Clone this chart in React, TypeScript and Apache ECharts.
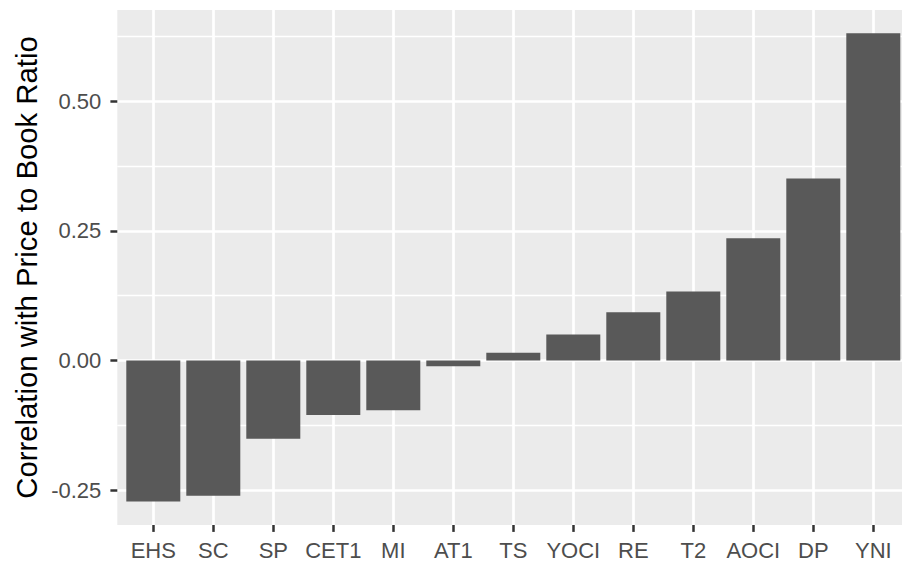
import React, { useEffect, useRef } from "react";
import * as echarts from "echarts";

// ---- data ----
const categories = ["EHS", "SC", "SP", "CET1", "MI", "AT1", "TS", "YOCI", "RE", "T2", "AOCI", "DP", "YNI"];
const correlations = [-0.272, -0.261, -0.151, -0.105, -0.096, -0.011, 0.015, 0.05, 0.093, 0.133, 0.236, 0.351, 0.631];
const yTickValues = [-0.25, 0, 0.25, 0.5];
const yAxisTitle = "Correlation with Price to Book Ratio";

// ---- layout (page pixel coordinates) ----
const SHIFT = 40; // chart div is shifted up so the tick grid can start above the page
const PANEL_LEFT = 117.3;
const PANEL_WIDTH = 792;
const PANEL_TOP = 10;
const PANEL_BOTTOM = 525;
const ZERO_Y = 360.5;
const PX_PER_UNIT = 518.5;
const BAND = 60;
const valueToY = (v: number) => ZERO_Y - v * PX_PER_UNIT;
const yToValue = (y: number) => (ZERO_Y - y) / PX_PER_UNIT;

const FONT = "'Liberation Sans', Arial, Helvetica, sans-serif";

export default function App() {
  const ref = useRef<HTMLDivElement>(null);

  useEffect(() => {
    if (!ref.current) return;
    const chart = echarts.init(ref.current, undefined, { renderer: "svg" });

    const step = yTickValues[1] - yTickValues[0];
    const gridMin = yTickValues[0];
    const gridMax = yTickValues[yTickValues.length - 1] + step;
    const g1Top = valueToY(gridMax);
    const g1Height = valueToY(gridMin) - g1Top;

    const barsLeft = PANEL_LEFT + 0.6 * BAND;
    const barsWidth = (categories.length - 1) * BAND;

    const option: any = {
      animation: false,
      backgroundColor: "#FFFFFF",
      grid: [
        {
          left: PANEL_LEFT,
          top: PANEL_TOP + SHIFT,
          width: PANEL_WIDTH,
          height: PANEL_BOTTOM - PANEL_TOP,
          show: true,
          backgroundColor: "#EBEBEB",
          borderWidth: 0,
          containLabel: false,
        },
        {
          left: PANEL_LEFT,
          top: g1Top + SHIFT,
          width: PANEL_WIDTH,
          height: g1Height,
          containLabel: false,
        },
        {
          left: barsLeft,
          top: PANEL_TOP + SHIFT,
          width: barsWidth,
          height: PANEL_BOTTOM - PANEL_TOP,
          containLabel: false,
        },
      ],
      xAxis: [
        { gridIndex: 0, type: "value", min: 0, max: 1, show: false },
        { gridIndex: 1, type: "value", min: 0, max: 1, show: false },
        {
          gridIndex: 2,
          type: "category",
          data: categories,
          boundaryGap: false,
          position: "bottom",
          axisLine: { show: false, onZero: false },
          axisTick: {
            show: true,
            interval: 0,
            length: 6.9,
            lineStyle: { color: "#333333", width: 2.5 },
          },
          axisLabel: {
            interval: 0,
            color: "#4D4D4D",
            fontSize: 22,
            fontFamily: FONT,
            margin: 14,
          },
          splitLine: {
            show: true,
            interval: 0,
            lineStyle: { color: "#FFFFFF", width: 2.67 },
          },
        },
      ],
      yAxis: [
        { gridIndex: 0, type: "value", min: 0, max: 1, show: false },
        {
          gridIndex: 1,
          type: "value",
          min: gridMin,
          max: gridMax,
          interval: step,
          axisLine: { show: false, onZero: false },
          axisTick: {
            show: true,
            length: 6.9,
            lineStyle: { color: "#333333", width: 2.5 },
          },
          axisLabel: {
            color: "#4D4D4D",
            fontSize: 22,
            fontFamily: FONT,
            margin: 16,
            formatter: (v: number) =>
              yTickValues.some((t) => Math.abs(t - v) < 1e-9) ? v.toFixed(2) : "",
          },
          splitLine: { show: true, lineStyle: { color: "#FFFFFF", width: 2.67 } },
          minorTick: { show: false, splitNumber: 2 },
          minorSplitLine: { show: true, lineStyle: { color: "#FFFFFF", width: 1.34 } },
        },
        {
          gridIndex: 2,
          type: "value",
          min: yToValue(PANEL_BOTTOM),
          max: yToValue(PANEL_TOP),
          show: false,
          splitLine: { show: false },
        },
      ],
      series: [
        {
          type: "bar",
          xAxisIndex: 2,
          yAxisIndex: 2,
          data: correlations,
          barWidth: 0.9 * BAND,
          clip: false,
          silent: true,
          itemStyle: { color: "#595959" },
        },
      ],
      graphic: [
        {
          type: "text",
          x: 26,
          y: (PANEL_TOP + PANEL_BOTTOM) / 2 + SHIFT,
          rotation: Math.PI / 2,
          silent: true,
          style: {
            text: yAxisTitle,
            fill: "#000000",
            font: `29.3px ${FONT}`,
            align: "center",
            verticalAlign: "middle",
          },
        },
      ],
    };

    chart.setOption(option);
    return () => chart.dispose();
  }, []);

  return (
    <div
      ref={ref}
      style={{ position: "absolute", left: 0, top: -SHIFT, width: 902, height: 566 + SHIFT }}
    />
  );
}
